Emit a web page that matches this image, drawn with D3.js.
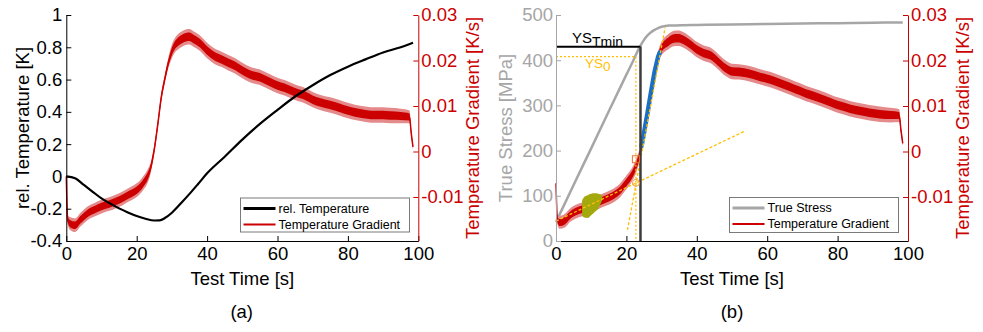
<!DOCTYPE html>
<html>
<head>
<meta charset="utf-8">
<script src="https://cdnjs.cloudflare.com/ajax/libs/d3/7.8.5/d3.min.js"></script>
<style>
  body { margin: 0; background: #fff; }
  text { font-family: Arial, "Liberation Sans", sans-serif; }
</style>
</head>
<body>
<svg id="chart" width="983" height="332"></svg>
<script>
// ---- data ----
var timeTicks = [0, 20, 40, 60, 80, 100];
var tempTicks = [-0.4, -0.2, 0, 0.2, 0.4, 0.6, 0.8, 1];
var gradTicks = [-0.01, 0, 0.01, 0.02, 0.03];
var stressTicks = [0, 100, 200, 300, 400, 500];

// (a) relative temperature [K]
var tempTime = [0, 2.5, 5, 7.5, 10, 12.5, 15, 17.5, 20, 22.5, 25, 26.5, 28, 30, 32.5, 35, 37.5, 40, 45, 50, 55, 60, 65, 70, 75, 80, 85, 90, 95, 98.5];
var relTemp = [0, -0.012, -0.053, -0.095, -0.136, -0.168, -0.198, -0.223, -0.245, -0.262, -0.273, -0.272, -0.258, -0.225, -0.168, -0.108, -0.045, 0.019, 0.122, 0.228, 0.325, 0.412, 0.495, 0.565, 0.628, 0.68, 0.725, 0.768, 0.80, 0.828];

// temperature gradient [K/s], mean of the noisy trace and its half band
var gradTime = [0, 0.4, 1, 2.5, 4, 6, 8, 10, 12, 14, 16, 18, 20, 21, 22, 23, 24, 25, 26, 27, 28, 29, 30, 31, 32, 33, 34, 35, 36, 38, 40, 42, 44, 46, 48, 50, 52, 55, 58, 60, 62, 65, 68, 70, 72, 75, 78, 80, 82, 85, 88, 90, 92, 95, 97.5, 98, 98.5];
var gradA = [-0.0055, -0.0150, -0.0158, -0.0162, -0.0150, -0.0136, -0.0128, -0.0121, -0.0116, -0.0110, -0.0103, -0.0094, -0.0085, -0.0078, -0.0068, -0.0056, -0.0035, 0.0005, 0.0060, 0.0120, 0.0160, 0.0195, 0.0220, 0.0235, 0.0243, 0.0248, 0.0251, 0.0252, 0.0248, 0.0238, 0.0222, 0.0210, 0.0203, 0.0195, 0.0188, 0.0178, 0.0170, 0.0163, 0.0152, 0.0145, 0.0140, 0.0130, 0.0122, 0.0114, 0.0108, 0.0102, 0.0095, 0.0090, 0.0086, 0.0082, 0.0080, 0.0080, 0.0079, 0.0078, 0.0076, 0.0040, 0.0010];
var gradB = [-0.0070, -0.0150, -0.0156, -0.0152, -0.0140, -0.0131, -0.0126, -0.0119, -0.0112, -0.0105, -0.0098, -0.0087, -0.0068, -0.0058, -0.0045, -0.0027, 0.0000, 0.0041, 0.0085, 0.0131, 0.0175, 0.0208, 0.0227, 0.0236, 0.0242, 0.0247, 0.0249, 0.0249, 0.0246, 0.0236, 0.0224, 0.0216, 0.0211, 0.0198, 0.0184, 0.0176, 0.0175, 0.0171, 0.0164, 0.0160, 0.0155, 0.0146, 0.0137, 0.0131, 0.0125, 0.0117, 0.0108, 0.0102, 0.0098, 0.0091, 0.0087, 0.0084, 0.0082, 0.0080, 0.0079, 0.0047, 0.0018];
var gradNoise = [0.0006, 0.0010, 0.0014, 0.0015, 0.0015, 0.0015, 0.0015, 0.0015, 0.0015, 0.0015, 0.0015, 0.0015, 0.0015, 0.0015, 0.0015, 0.0015, 0.0012, 0.0010, 0.0010, 0.0010, 0.0010, 0.0012, 0.0015, 0.0016, 0.0017, 0.0017, 0.0017, 0.0017, 0.0017, 0.0017, 0.0017, 0.0017, 0.0017, 0.0017, 0.0017, 0.0017, 0.0017, 0.0017, 0.0017, 0.0017, 0.0017, 0.0017, 0.0017, 0.0017, 0.0017, 0.0017, 0.0017, 0.0017, 0.0017, 0.0017, 0.0017, 0.0017, 0.0017, 0.0016, 0.0014, 0.0008, 0.0006];

// (b) true stress [MPa]
var stressTime = [0, 5, 10, 15, 20, 22, 23.5, 25, 26, 27, 28, 29, 30, 31, 32, 34, 36, 40, 50, 60, 70, 80, 90, 98.5];
var trueStress = [42, 124, 205, 287, 368, 400, 425, 445, 455, 462, 467, 471, 474, 475.5, 476.5, 477, 477.5, 478, 479, 480, 481, 482, 483, 483.5];

// fitted elastic range (blue) and reference range (olive)
var fitTime = [24.3, 25, 26, 27, 28, 29, 29.5];
var fitGrad = [0.0012, 0.0041, 0.0085, 0.0131, 0.0175, 0.0208, 0.0218];
var refTime = [7.4, 8, 9, 10, 11, 12, 13.1];
var refLo = [-0.0140, -0.0145, -0.0146, -0.0140, -0.0133, -0.0125, -0.0107];
var refHi = [-0.0108, -0.0100, -0.0096, -0.0093, -0.0092, -0.0093, -0.0096];

// tangent lines
var steepTime = [20.3, 31];
var steepGrad = [-0.01725, 0.02725];
var flatTime = [0, 53.7];
var flatGrad = [-0.0153, 0.0045];

// yield points
var ys0Time = 22.7, ys0Stress = 408;
var ysTminTime = 24, ysTminStress = 430;
var onsetCross = -0.0069, onsetCurve = -0.0017;

// ---- drawing ----
var svg = d3.select("#chart");
var red = "#cc0000", gold = "#ffbf00", gray = "#a6a6a6";
var fs = "18.5px";
var plotTop = 15, plotBottom = 241;

function styleAxis(g, col) {
  g.attr("color", col).attr("font-size", fs).attr("font-family", "Arial, 'Liberation Sans', sans-serif");
  g.select(".domain").attr("stroke-width", 1);
  return g;
}

function gradBand(g, x, yG, vals) {
  var idx = d3.range(gradTime.length);
  var outer = d3.area().curve(d3.curveMonotoneX)
    .x(function(i) { return x(gradTime[i]); })
    .y0(function(i) { return yG(vals[i] - gradNoise[i]); })
    .y1(function(i) { return yG(vals[i] + gradNoise[i]); });
  var inner = d3.area().curve(d3.curveMonotoneX)
    .x(function(i) { return x(gradTime[i]); })
    .y0(function(i) { return yG(vals[i] - gradNoise[i] * 0.55); })
    .y1(function(i) { return yG(vals[i] + gradNoise[i] * 0.55); });
  var mid = d3.line().curve(d3.curveMonotoneX)
    .x(function(i) { return x(gradTime[i]); })
    .y(function(i) { return yG(vals[i]); });
  g.append("path").datum(idx).attr("d", outer).attr("fill", "#e58a8a");
  g.append("path").datum(idx).attr("d", inner).attr("fill", red);
  g.append("path").datum(idx).attr("d", mid).attr("fill", "none").attr("stroke", red).attr("stroke-width", 1.5);
}

function legend(x0, y0, w, h, col, label1) {
  var lg = svg.append("g");
  lg.append("rect").attr("x", x0).attr("y", y0).attr("width", w).attr("height", h)
    .attr("fill", "#fff").attr("stroke", "#7a7a7a").attr("stroke-width", 1);
  var rows = [[label1, col, 10.5], ["Temperature Gradient", red, 26.5]];
  rows.forEach(function(r) {
    lg.append("line").attr("x1", x0 + 3).attr("x2", x0 + 35)
      .attr("y1", y0 + r[2]).attr("y2", y0 + r[2])
      .attr("stroke", r[1]).attr("stroke-width", r[1] == red ? 2 : 3);
    lg.append("text").attr("x", x0 + 38).attr("y", y0 + r[2]).attr("dy", "0.35em")
      .attr("font-size", "12.5px").attr("fill", "#000").text(r[0]);
  });
}

function sideLabel(cx, txt, col) {
  svg.append("text").attr("transform", "translate(" + cx + ",128) rotate(-90)")
    .attr("text-anchor", "middle").attr("dy", "0.3em")
    .attr("font-size", fs).attr("fill", col).text(txt);
}

// ===== panel (a) =====
var xA = d3.scaleLinear().domain([0, 100]).range([66.3, 418.3]);
var yT = d3.scaleLinear().domain([-0.4, 1]).range([plotBottom, plotTop]);
var yGA = d3.scaleLinear().domain([-0.01967, 0.03]).range([plotBottom, plotTop]);

var pa = svg.append("g");
gradBand(pa, xA, yGA, gradA);
pa.append("path").datum(d3.range(tempTime.length))
  .attr("d", d3.line().curve(d3.curveMonotoneX)
    .x(function(i) { return xA(tempTime[i]); })
    .y(function(i) { return yT(relTemp[i]); }))
  .attr("fill", "none").attr("stroke", "#000").attr("stroke-width", 2.2);

styleAxis(svg.append("g").attr("transform", "translate(0," + plotBottom + ")")
  .call(d3.axisBottom(xA).tickValues(timeTicks).tickSizeInner(-5).tickSizeOuter(0).tickPadding(6)), "#000");
styleAxis(svg.append("g").attr("transform", "translate(66.3,0)")
  .call(d3.axisLeft(yT).tickValues(tempTicks).tickSizeInner(-5).tickSizeOuter(0).tickPadding(4)
    .tickFormat(function(d) { return String(+d.toFixed(1)); })), "#000");
styleAxis(svg.append("g").attr("transform", "translate(418.3,0)")
  .call(d3.axisRight(yGA).tickValues(gradTicks).tickSizeInner(-5).tickSizeOuter(0).tickPadding(3)
    .tickFormat(function(d) { return String(+d.toFixed(2)); })), red);

legend(240.5, 198, 169, 34, "#000", "rel. Temperature");
sideLabel(23.5, "rel. Temperature [K]", "#000");
sideLabel(473, "Temperature Gradient [K/s]", red);
svg.append("text").attr("x", 242.3).attr("y", 285).attr("text-anchor", "middle").attr("font-size", fs).text("Test Time [s]");
svg.append("text").attr("x", 241.7).attr("y", 318).attr("text-anchor", "middle").attr("font-size", fs).text("(a)");

// ===== panel (b) =====
var xB = d3.scaleLinear().domain([0, 100]).range([556, 908]);
var yS = d3.scaleLinear().domain([0, 500]).range([plotBottom, plotTop]);
var yGB = d3.scaleLinear().domain([-0.01967, 0.03]).range([plotBottom, plotTop]);

var pb = svg.append("g");
pb.append("path").datum(d3.range(stressTime.length))
  .attr("d", d3.line().curve(d3.curveMonotoneX)
    .x(function(i) { return xB(stressTime[i]); })
    .y(function(i) { return yS(trueStress[i]); }))
  .attr("fill", "none").attr("stroke", gray).attr("stroke-width", 2.5);

gradBand(pb, xB, yGB, gradB);

// olive reference range
pb.append("path").datum(d3.range(refTime.length))
  .attr("d", d3.area().curve(d3.curveMonotoneX)
    .x(function(i) { return xB(refTime[i]); })
    .y0(function(i) { return yGB(refLo[i]); })
    .y1(function(i) { return yGB(refHi[i]); }))
  .attr("fill", "#a3a80c");

// blue fit range
pb.append("path").datum(d3.range(fitTime.length))
  .attr("d", d3.line()
    .x(function(i) { return xB(fitTime[i]); })
    .y(function(i) { return yGB(fitGrad[i]); }))
  .attr("fill", "none").attr("stroke", "#1a6fc4").attr("stroke-width", 4.5).attr("stroke-linecap", "round");

// tangents
[[steepTime, steepGrad], [flatTime, flatGrad]].forEach(function(l) {
  pb.append("line")
    .attr("x1", xB(l[0][0])).attr("y1", yGB(l[1][0]))
    .attr("x2", xB(l[0][1])).attr("y2", yGB(l[1][1]))
    .attr("stroke", gold).attr("stroke-width", 1.3).attr("stroke-dasharray", "3,2");
});

// YS0 (dotted gold)
pb.append("path")
  .attr("d", "M" + xB(0) + "," + yS(ys0Stress) + "H" + xB(ys0Time) + "V" + yS(0))
  .attr("fill", "none").attr("stroke", gold).attr("stroke-width", 1.2).attr("stroke-dasharray", "2,2");

// YS_Tmin (black)
pb.append("line").attr("x1", xB(0)).attr("x2", xB(ysTminTime))
  .attr("y1", yS(ysTminStress)).attr("y2", yS(ysTminStress))
  .attr("stroke", "#000").attr("stroke-width", 2);
pb.append("line").attr("x1", xB(ysTminTime)).attr("x2", xB(ysTminTime))
  .attr("y1", yS(ysTminStress)).attr("y2", yS(0))
  .attr("stroke", "#3c3c3c").attr("stroke-width", 2.5);

// markers
pb.append("rect").attr("x", xB(ys0Time) - 3.5).attr("y", yGB(onsetCurve) - 3.5)
  .attr("width", 7).attr("height", 7).attr("fill", "none").attr("stroke", "#e8743b").attr("stroke-width", 1);
pb.append("circle").attr("cx", xB(ys0Time)).attr("cy", yGB(onsetCross)).attr("r", 3.5)
  .attr("fill", "none").attr("stroke", "#f0a24a").attr("stroke-width", 1);

var t1 = pb.append("text").attr("x", 572).attr("y", 43).attr("font-size", "15px").attr("fill", "#000");
t1.append("tspan").text("YS");
t1.append("tspan").attr("dy", 4).attr("font-size", "14px").text("Tmin");
var t2 = pb.append("text").attr("x", 585).attr("y", 68).attr("font-size", "13.5px").attr("fill", gold);
t2.append("tspan").text("YS");
t2.append("tspan").attr("dy", 3).text("0");

styleAxis(svg.append("g").attr("transform", "translate(0," + plotBottom + ")")
  .call(d3.axisBottom(xB).tickValues(timeTicks).tickSizeInner(-5).tickSizeOuter(0).tickPadding(6)), "#000");
styleAxis(svg.append("g").attr("transform", "translate(556,0)")
  .call(d3.axisLeft(yS).tickValues(stressTicks).tickSizeInner(-5).tickSizeOuter(0).tickPadding(3)), gray);
styleAxis(svg.append("g").attr("transform", "translate(908,0)")
  .call(d3.axisRight(yGB).tickValues(gradTicks).tickSizeInner(-5).tickSizeOuter(0).tickPadding(3)
    .tickFormat(function(d) { return String(+d.toFixed(2)); })), red);

legend(729.5, 197.5, 169, 35, gray, "True Stress");
sideLabel(506.3, "True Stress [MPa]", gray);
sideLabel(963, "Temperature Gradient [K/s]", red);
svg.append("text").attr("x", 732).attr("y", 285).attr("text-anchor", "middle").attr("font-size", fs).text("Test Time [s]");
svg.append("text").attr("x", 732).attr("y", 318).attr("text-anchor", "middle").attr("font-size", fs).text("(b)");
</script>
</body>
</html>
